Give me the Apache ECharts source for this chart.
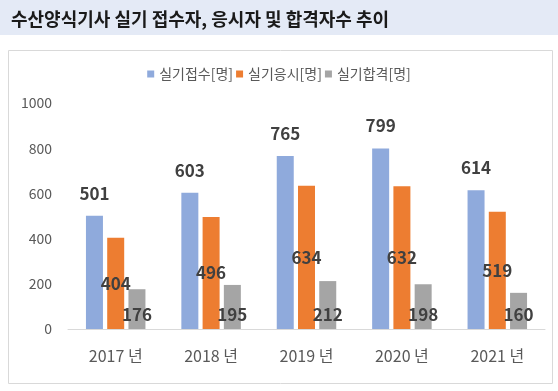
<!DOCTYPE html>
<html><head><meta charset="utf-8">
<script src="https://cdn.jsdelivr.net/npm/echarts@6/dist/echarts.min.js"></script>
<style>html,body{margin:0;padding:0;background:#fff}#c{width:558px;height:391px}</style>
</head><body><div id="c"></div>
<script>
const titleText = '수산양식기사 실기 접수자, 응시자 및 합격자수 추이';
const categories = ['2017 년', '2018 년', '2019 년', '2020 년', '2021 년'];
const seriesNames = ['실기접수[명]', '실기응시[명]', '실기합격[명]'];
const applied = [501, 603, 765, 799, 614];
const tested = [404, 496, 634, 632, 519];
const passed = [176, 195, 212, 198, 160];
const yTicks = [0, 200, 400, 600, 800, 1000];

const FONT = '"Noto Sans CJK KR", "Noto Sans", sans-serif';
const chart = echarts.init(document.getElementById('c'), null, {renderer: 'canvas'});
const lbl = {show: true, color: '#404040', fontFamily: FONT, fontWeight: 'bold', fontSize: 17};
chart.setOption({
  animation: false,
  textStyle: {fontFamily: FONT},
  graphic: [
    {type: 'rect', shape: {x: 0, y: 0, width: 558, height: 35}, style: {fill: '#E4EAF6'}, z: -10},
    {type: 'rect', shape: {x: 8.5, y: 50.5, width: 544, height: 333}, style: {fill: 'none', stroke: '#D9D9D9', lineWidth: 1}, z: -10}
  ],
  title: {
    text: titleText, left: 6, top: 5,
    textStyle: {fontFamily: FONT, fontSize: 18, fontWeight: 'bold', color: '#1a1a1a'}
  },
  legend: {
    top: 62, left: 'center', itemWidth: 7, itemHeight: 7, itemGap: 3,
    icon: 'rect',
    textStyle: {fontFamily: FONT, fontSize: 14, color: '#595959'},
    data: seriesNames
  },
  grid: {left: 68, right: 13, top: 103, bottom: 62},
  xAxis: {
    type: 'category', data: categories,
    axisLine: {lineStyle: {color: '#D9D9D9'}},
    axisTick: {show: false},
    axisLabel: {color: '#595959', fontSize: 16, fontFamily: FONT, margin: 19}
  },
  yAxis: {
    type: 'value', min: yTicks[0], max: yTicks[yTicks.length - 1], interval: yTicks[1] - yTicks[0],
    axisLine: {show: false}, axisTick: {show: false},
    splitLine: {show: false},
    axisLabel: {color: '#595959', fontSize: 14, fontFamily: FONT, margin: 16, formatter: v => String(v)}
  },
  series: [
    {name: seriesNames[0], type: 'bar', data: applied, barWidth: 17, barGap: '25%', barCategoryGap: '38%',
     itemStyle: {color: '#8FAADC'}, label: Object.assign({}, lbl, {position: 'top', distance: 14})},
    {name: seriesNames[1], type: 'bar', data: tested, barWidth: 17, barGap: '25%',
     itemStyle: {color: '#ED7D31'}, label: Object.assign({}, lbl, {position: 'inside'})},
    {name: seriesNames[2], type: 'bar', data: passed, barWidth: 17, barGap: '25%',
     itemStyle: {color: '#A5A5A5'}, label: Object.assign({}, lbl, {position: 'insideBottom', distance: 6})}
  ]
});
</script></body></html>
